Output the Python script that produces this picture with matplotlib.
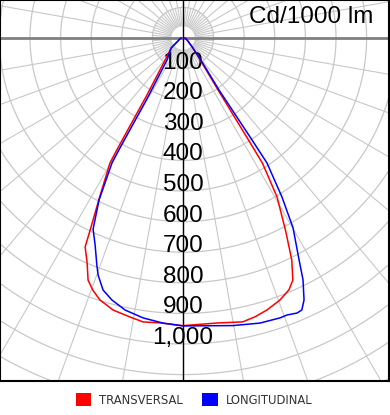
import numpy as np
import matplotlib
matplotlib.use("Agg")
import matplotlib.pyplot as plt
from matplotlib.patches import Patch
from matplotlib import font_manager

# photometric data, cd/1000 lm, angle from nadir (negative = left side)
red_angles = [-90, -70, -56, -50, -39, -32.3, -30.6, -30.3, -27.6, -25.8, -25.1, -23.2, -21.4,
              -19.7, -17.6, -14.4, -10.8, -8, -4.6, 0, 6.8, 11.9, 14.5, 17.2, 20.3, 22.8, 24.4,
              26.1, 28, 30.6, 32.4, 32.7, 34, 38, 45, 55, 70, 90]
red_values = [6, 12, 24, 50, 93, 220, 425, 473, 590, 697, 754, 796, 850,
              875, 898, 918, 928, 937, 934, 940, 938, 948, 941, 930, 913, 893, 869,
              808, 715, 604, 485, 395, 205, 91, 45, 22, 12, 6]

blue_angles = [-90, -70, -56, -50, -36, -30.8, -29.8, -29.6, -27.4, -25.2, -23, -20.8, -19.7,
               -17.6, -15.2, -12, -8.1, -4, 0, 9.9, 15.1, 19.1, 20.6, 22.5, 23.6, 24.8, 26.4,
               27.6, 30.1, 31.9, 33.9, 34.1, 34.7, 39, 45, 55, 70, 90]
blue_values = [6, 12, 24, 50, 89, 217, 422, 470, 596, 690, 735, 793, 823,
               864, 887, 909, 924, 934, 941, 954, 965, 968, 967, 973, 970, 943, 882,
               819, 717, 612, 492, 402, 207, 93, 45, 22, 12, 6]

ring_values = [100, 200, 300, 400, 500, 600, 700, 800, 900, 1000]
ring_labels = ["100", "200", "300", "400", "500", "600", "700", "800", "900", "1,000"]
series_names = ["TRANSVERSAL", "LONGITUDINAL"]

# look for a condensed face for the legend
legend_font = None
for f in font_manager.fontManager.ttflist:
    if f.style != "normal" or f.weight not in (400, "normal", "regular"):
        continue
    if "Narrow" in f.name or "Condensed" in f.name or f.stretch in ("condensed", "semi-condensed", 75, 87.5):
        legend_font = f.fname
        break
if legend_font:
    legend_prop = font_manager.FontProperties(fname=legend_font, size=9.3)
else:
    legend_prop = font_manager.FontProperties(family="Liberation Sans", size=8)

fig = plt.figure(figsize=(3.9, 4.15), dpi=100)
ax = fig.add_axes([0.0, 34 / 415, 389 / 390, 381 / 415])

scale = 0.306  # px per cd/klm
ax.set_xlim(-183 / scale, (389 - 183) / scale)
ax.set_ylim(-(381 - 38) / scale, 38 / scale)
ax.set_xticks([])
ax.set_yticks([])
for s in ax.spines.values():
    s.set_color("black")
    s.set_linewidth(1.5)

grid_c = "#c8c8c8"
# circles
t = np.linspace(0, 2 * np.pi, 721)
for r in range(100, 1500, 100):
    ax.plot(r * np.cos(t), r * np.sin(t), color=grid_c, lw=0.9, zorder=1)
# spokes, 10 deg outside, 5 deg inside the first ring
for a in range(0, 360, 5):
    ar = np.radians(a)
    r0 = 40
    r1 = 1500 if a % 10 == 0 else 100
    ax.plot([r0 * np.cos(ar), r1 * np.cos(ar)], [r0 * np.sin(ar), r1 * np.sin(ar)],
            color=grid_c, lw=0.8, zorder=1)

ax.axhline(0, color="#808080", lw=2, zorder=2)
ax.axvline(0, color="black", lw=1, zorder=2)

for r, lab in zip(ring_values, ring_labels):
    ax.text(0, -r, lab, ha="center", va="baseline", fontsize=17.5,
            family="Liberation Sans", zorder=3)

ax.text(373 / 389, 1 - 23 / 381, "Cd/1000 lm", transform=ax.transAxes, ha="right",
        va="baseline", fontsize=17.5, family="Liberation Sans", zorder=3)

ra = np.radians(red_angles)
ba = np.radians(blue_angles)
ax.plot(np.array(red_values) * np.sin(ra), -np.array(red_values) * np.cos(ra),
        color="#ff0000", lw=1.1, zorder=4)
ax.plot(np.array(blue_values) * np.sin(ba), -np.array(blue_values) * np.cos(ba),
        color="#0000ff", lw=1.1, zorder=5)

handles = [Patch(facecolor="#ff0000", edgecolor="none"), Patch(facecolor="#0000ff", edgecolor="none")]
fig.legend(handles, series_names, loc="center", bbox_to_anchor=(194 / 390, 1 - 400 / 415),
           ncol=2, frameon=False, handlelength=1.2, handleheight=1.2, handletextpad=0.6,
           columnspacing=1.5, prop=legend_prop, labelcolor="#333333")

fig.savefig("out.png", dpi=100)
